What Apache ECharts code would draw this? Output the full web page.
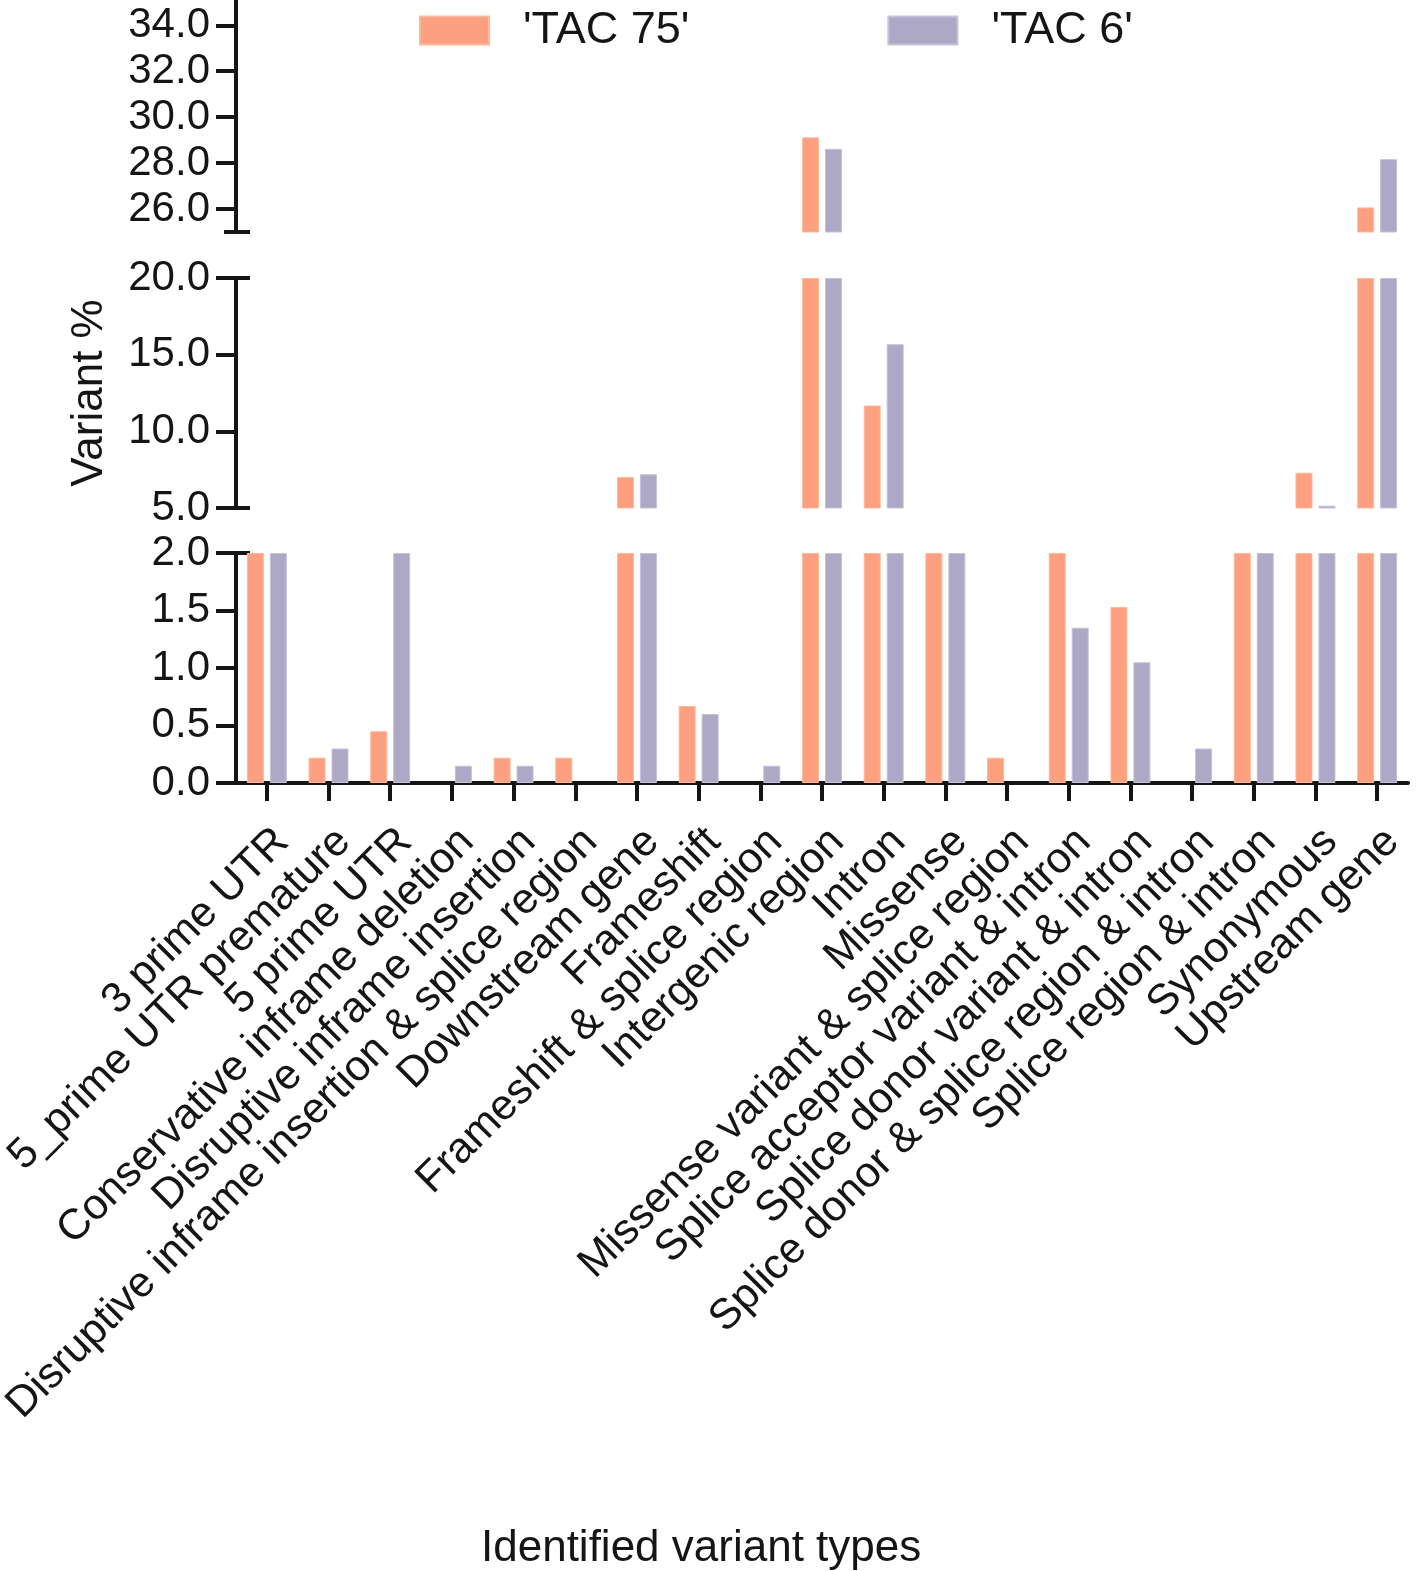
<!DOCTYPE html>
<html><head><meta charset="utf-8">
<script src="https://cdn.jsdelivr.net/npm/echarts@6/dist/echarts.min.js"></script>
<style>html,body{margin:0;padding:0;background:#fff}#c{width:1416px;height:1571px}</style>
</head><body><div id="c"></div>
<script>
const categories = [
  '3 prime UTR', '5_prime UTR premature', '5 prime UTR', 'Conservative inframe deletion',
  'Disruptive inframe insertion', 'Disruptive inframe insertion & splice region', 'Downstream gene',
  'Frameshift', 'Frameshift & splice region', 'Intergenic region', 'Intron', 'Missense',
  'Missense variant & splice region', 'Splice acceptor variant & intron', 'Splice donor variant & intron',
  'Splice donor & splice region & intron', 'Splice region & intron', 'Synonymous', 'Upstream gene'
];
const seriesNames = ["'TAC 75'", "'TAC 6'"];
const tac75 = [3.5, 0.22, 0.45, 0, 0.22, 0.22, 7.02, 0.67, 0, 29.12, 11.68, 4.2, 0.22, 2.3, 1.53, 0, 3.8, 7.3, 26.07];
const tac6  = [3.2, 0.30, 2.4, 0.15, 0.15, 0, 7.2, 0.60, 0.15, 28.62, 15.68, 4.5, 0, 1.35, 1.05, 0.30, 4.0, 5.15, 28.17];
// axis segments of the broken value axis (top to bottom)
const segMin = [25, 5, 0];
const segMax = [35.1, 20, 2];
const segTicks = [[26, 28, 30, 32, 34], [5, 10, 15, 20], [0, 0.5, 1, 1.5, 2]];
const segBreaks = [[25], [5, 20], [2]];

const FONT = 'Liberation Sans, Arial, sans-serif';
const INK = '#151515';
const colors = ['#FCA07F', '#ACA8C6'];
const borders = ['#FDB89C', '#C4C1D8'];
const gridTop = [0, 278, 553];
const gridH = [232, 230, 230];

function clipSeg(vals, i) {
  return vals.map(v => (v > segMin[i] ? Math.min(v, segMax[i]) : null));
}

const grid = [], xAxis = [], yAxis = [], series = [];
for (let i = 0; i < 3; i++) {
  grid.push({ left: 236, width: 1172, top: gridTop[i], height: gridH[i], outerBoundsMode: 'none', containLabel: false });
  const last = i === 2;
  xAxis.push({
    type: 'category', gridIndex: i, data: categories, show: last,
    axisLine: { show: last, lineStyle: { color: INK, width: 4 } },
    axisTick: { show: last, alignWithLabel: true, length: 18, lineStyle: { color: INK, width: 4 } },
    axisLabel: { show: last, interval: 0, rotate: 45, fontSize: 43, fontFamily: FONT, color: INK,
                 margin: 37, verticalAlign: 'top' }
  });
  // main axis
  yAxis.push({
    type: 'value', gridIndex: i, min: segMin[i], max: segMax[i], position: 'left',
    splitLine: { show: false },
    axisLine: { show: true, lineStyle: { color: INK, width: 4 } },
    axisTick: { show: true, length: 20, customValues: segTicks[i], lineStyle: { color: INK, width: 4 } },
    axisLabel: { show: true, customValues: segTicks[i], fontSize: 42, fontFamily: FONT, color: INK, margin: 26,
                 formatter: v => Number(v).toFixed(1) },
    name: i === 1 ? 'Variant %' : '', nameLocation: 'middle', nameGap: 124,
    nameTextStyle: { fontSize: 44, fontFamily: FONT, color: INK }
  });
  // break marks (inside part)
  yAxis.push({
    type: 'value', gridIndex: i, min: segMin[i], max: segMax[i], position: 'left',
    splitLine: { show: false }, axisLine: { show: false }, axisLabel: { show: false },
    axisTick: { show: true, inside: true, length: 14, customValues: segBreaks[i], lineStyle: { color: INK, width: 4 } }
  });
  if (i === 0) {
    yAxis.push({
      type: 'value', gridIndex: i, min: segMin[i], max: segMax[i], position: 'left',
      splitLine: { show: false }, axisLine: { show: false }, axisLabel: { show: false },
      axisTick: { show: true, length: 12, customValues: segBreaks[i], lineStyle: { color: INK, width: 4 } }
    });
  }
  const yIdx = i === 0 ? 0 : (i === 1 ? 3 : 5);
  [tac75, tac6].forEach((vals, s) => {
    series.push({
      type: 'bar', name: seriesNames[s], xAxisIndex: i, yAxisIndex: yIdx,
      data: clipSeg(vals, i), barWidth: 17, barGap: '35%',
      itemStyle: { color: colors[s], borderColor: borders[s], borderWidth: 1 },
      silent: true, animation: false
    });
  });
}

const chart = echarts.init(document.getElementById('c'), null, { renderer: 'canvas' });
chart.setOption({
  animation: false,
  backgroundColor: '#ffffff',
  title: { text: 'Identified variant types', left: 481, top: 1527, padding: 0,
           textStyle: { fontSize: 44, fontWeight: 'normal', fontFamily: FONT, color: INK } },
  legend: {
    data: seriesNames, left: 419, top: 8, padding: 0, itemWidth: 69, itemHeight: 28, itemGap: 198,
    icon: 'rect', selectedMode: false,
    textStyle: { fontSize: 45, fontFamily: FONT, color: INK, padding: [0, 0, 0, 29] }
  },
  grid, xAxis, yAxis, series
});
</script></body></html>
